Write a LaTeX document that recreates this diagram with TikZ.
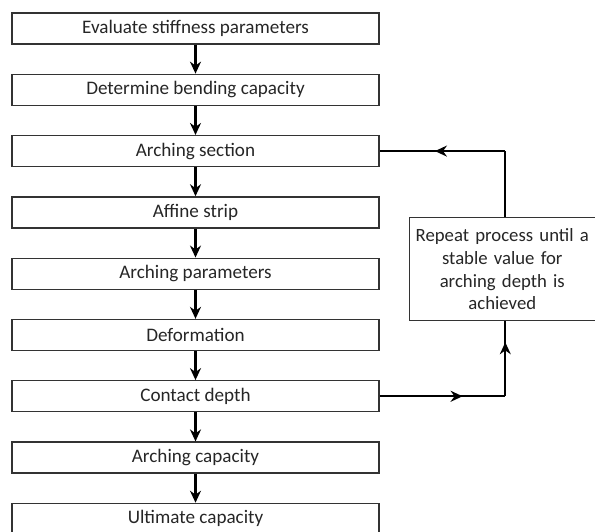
\documentclass[tikz,border=0pt]{standalone}
\usepackage{fontspec}
\setmainfont{Carlito}
\usetikzlibrary{arrows.meta, positioning, decorations.markings}

\begin{document}
\begin{tikzpicture}[
        x=1bp, y=-1bp,
        node distance=29bp,
        step box/.style={rectangle, minimum width=367bp, minimum height=31bp, inner sep=0pt, text centered, draw=black!80, line width=1.3pt, fill=white, text=black!85, font=\fontsize{19.2}{22}\selectfont},
        note/.style={rectangle, minimum width=186bp, minimum height=103bp, inner sep=1pt, text width=184bp, align=center, draw=black!80, line width=1.3pt, fill=white, text=black!85, font=\fontsize{18.8}{23}\selectfont},
        flow/.style={line width=2.1pt, black, -{Stealth[length=12pt, width=11pt]}},
        line/.style={line width=2.1pt, black},
        mid arrow/.style={postaction={decorate}, decoration={markings, mark=at position #1 with {\arrow{Stealth[length=12pt, width=11pt]}}}}
    ]
        \useasboundingbox (0,0) rectangle (595,532);

        % Main chain of steps
        \node (stiff) [step box] at (195.5,28.5) {Evaluate stiffness parameters};
        \node (bending) [step box, below=of stiff] {Determine bending capacity};
        \node (section) [step box, below=of bending] {Arching section};
        \node (affine) [step box, below=of section] {Affine strip};
        \node (params) [step box, below=of affine] {Arching parameters};
        \node (deform) [step box, below=of params] {Deformation};
        \node (contact) [step box, below=of deform] {Contact depth};
        \node (capacity) [step box, below=of contact] {Arching capacity};
        \node (ultimate) [step box, below=of capacity] {Ultimate capacity};

        % Iteration note
        \node (repeat) [note, right=29bp of params, yshift=4.5bp] {Repeat process until a\\ stable value for\\ arching depth is\\ achieved};

        % Arrows down the chain
        \draw [flow] (stiff) -- (bending);
        \draw [flow] (bending) -- (section);
        \draw [flow] (section) -- (affine);
        \draw [flow] (affine) -- (params);
        \draw [flow] (params) -- (deform);
        \draw [flow] (deform) -- (contact);
        \draw [flow] (contact) -- (capacity);
        \draw [flow] (capacity) -- (ultimate);

        % Loop back
        \coordinate (lowcorner) at ([xshift=3bp]repeat.south |- contact.east);
        \coordinate (topcorner) at ([xshift=3bp]repeat.north |- section.east);
        \draw [line, mid arrow=0.66] (contact.east) -- (lowcorner);
        \draw [line, mid arrow=0.72] (lowcorner) -- ([xshift=3bp]repeat.south);
        \draw [line] ([xshift=3bp]repeat.north) -- (topcorner);
        \draw [line, mid arrow=0.56] (topcorner) -- (section.east);

    \end{tikzpicture}
\end{document}
